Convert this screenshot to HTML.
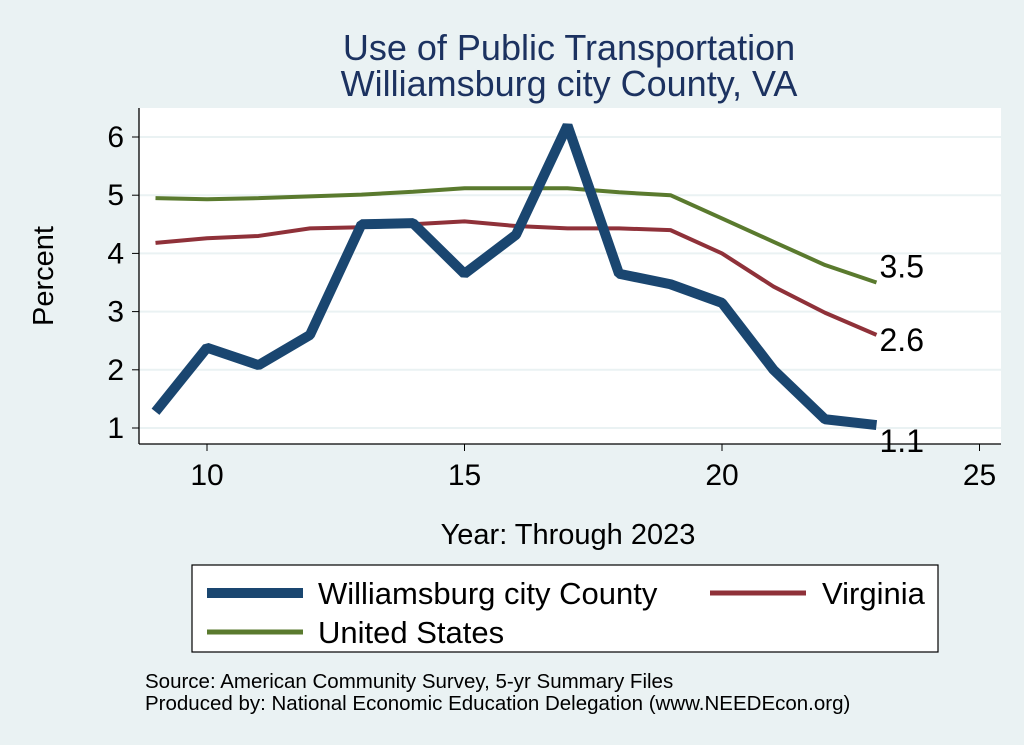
<!DOCTYPE html>
<html><head><meta charset="utf-8"><style>
body{margin:0;background:#eaf2f3;}
svg{display:block;font-family:"Liberation Sans",Arial,sans-serif;}
</style></head><body>
<svg id="chart" width="1024" height="745" viewBox="0 0 1024 745">
<rect x="0" y="0" width="1024" height="745" fill="#eaf2f3"/>
<text x="569" y="60" font-size="36" fill="#1c3260" text-anchor="middle">Use of Public Transportation</text>
<text x="569" y="96" font-size="36" fill="#1c3260" text-anchor="middle">Williamsburg city County, VA</text>
<rect x="139" y="108" width="862" height="336" fill="#fff"/>
<g id="grid"></g><g id="axes"></g><g id="series"></g>
<text x="53" y="276" font-size="29" text-anchor="middle" transform="rotate(-90 53 276)">Percent</text>
<text x="568" y="544" font-size="29" text-anchor="middle">Year: Through 2023</text>
<g>
<rect x="192" y="565" width="746" height="87" fill="#fff" stroke="#000" stroke-width="1.2"/>
<line x1="207" y1="593" x2="303" y2="593" stroke="#1a4670" stroke-width="10"/>
<text x="318" y="604" font-size="31">Williamsburg city County</text>
<line x1="710" y1="593" x2="806" y2="593" stroke="#8f3139" stroke-width="5"/>
<text x="822" y="604" font-size="31">Virginia</text>
<line x1="207" y1="632" x2="303" y2="632" stroke="#5a7a2e" stroke-width="5"/>
<text x="318" y="643" font-size="31">United States</text>
</g>
<text x="145" y="688" font-size="20.5">Source: American Community Survey, 5-yr Summary Files</text>
<text x="145" y="710" font-size="20.5">Produced by: National Economic Education Delegation (www.NEEDEcon.org)</text>
</svg>
<script>
const years=[9,10,11,12,13,14,15,16,17,18,19,20,21,22,23];
const wburg=[1.28,2.38,2.08,2.6,4.5,4.52,3.65,4.32,6.2,3.65,3.47,3.15,2.0,1.15,1.05];
const virginia=[4.18,4.26,4.3,4.43,4.45,4.5,4.55,4.47,4.43,4.43,4.4,4.0,3.43,2.98,2.6];
const us=[4.95,4.93,4.95,4.98,5.01,5.06,5.12,5.12,5.12,5.05,5.0,4.6,4.2,3.8,3.5];
const yTicks=[1,2,3,4,5,6];
const xTicks=[10,15,20,25];
const endLabels=["1.1","2.6","3.5"];
const NS="http://www.w3.org/2000/svg";
const X=v=>207+(v-10)*51.5;
const Y=v=>428-(v-1)*58.2;
function mk(t,a,p){const e=document.createElementNS(NS,t);for(const k in a)e.setAttribute(k,a[k]);p.appendChild(e);return e;}
const grid=document.getElementById('grid'),axes=document.getElementById('axes'),ser=document.getElementById('series');
yTicks.forEach(t=>{
 const g=mk('line',{x1:139,x2:1001,y1:Y(t),y2:Y(t),stroke:'#eaf2f3','stroke-width':2},grid);
 
 
 mk('line',{x1:132,x2:139,y1:Y(t),y2:Y(t),stroke:'#000'},axes);
 const l=mk('text',{x:124,y:Y(t)+10,'font-size':30,'text-anchor':'end'},axes);l.textContent=t;
 
 
});
mk('line',{x1:139,x2:139,y1:108,y2:444,stroke:'#000','stroke-width':1.3},axes);
mk('line',{x1:139,x2:1001,y1:444,y2:444,stroke:'#000','stroke-width':1.3},axes);
xTicks.forEach(t=>{
 mk('line',{x1:X(t),x2:X(t),y1:444,y2:451,stroke:'#000'},axes);
 const l=mk('text',{x:X(t),y:485,'font-size':30,'text-anchor':'middle'},axes);l.textContent=t;
 
 
});
function line(data,col,w,name){
 const p=mk('polyline',{points:data.map((v,i)=>X(years[i])+','+Y(v)).join(' '),fill:'none',stroke:col,'stroke-width':w,'stroke-linejoin':'bevel'},ser);
 
 
}
line(us,'#5a7a2e',4,'line-united-states');
line(virginia,'#8f3139',4,'line-virginia');
line(wburg,'#1a4670',10,'line-williamsburg');
const n=years.length-1;
[[wburg,endLabels[0],27],[virginia,endLabels[1],16],[us,endLabels[2],-5]].forEach(([d,t,dy])=>{
 const l=mk('text',{x:X(years[n])+3,y:Y(d[n])+dy,'font-size':32},ser);l.textContent=t;
 
 
});
</script>
</body></html>
